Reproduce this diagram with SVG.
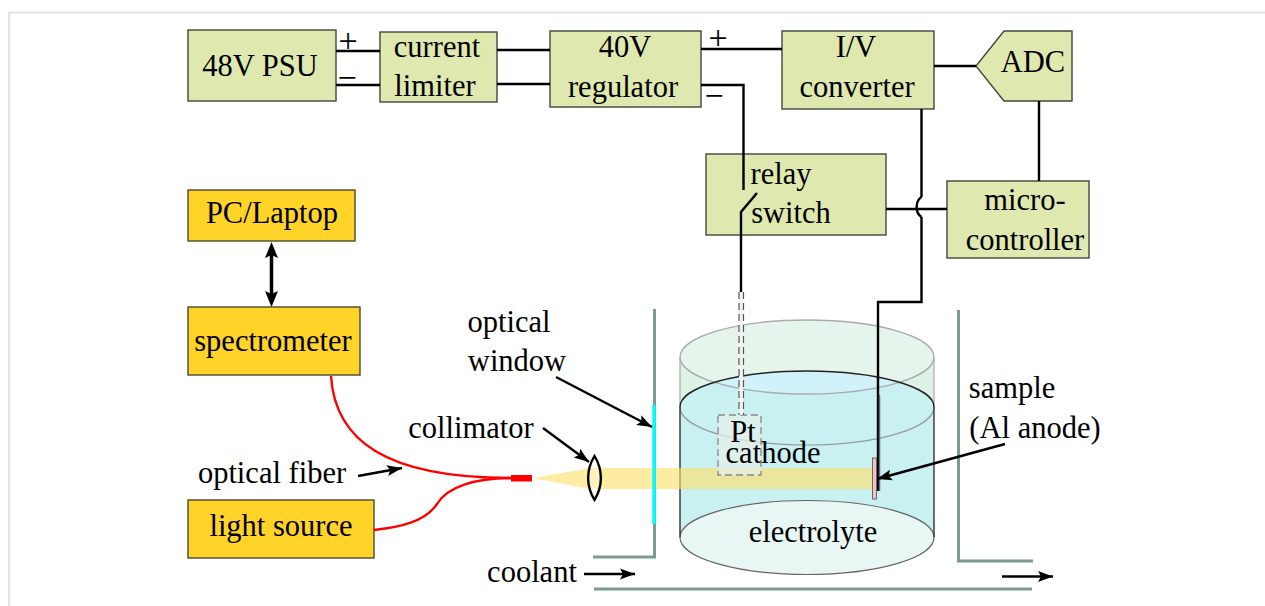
<svg xmlns="http://www.w3.org/2000/svg" width="1265" height="606" viewBox="0 0 1265 606">
<defs>
<marker id="ah" markerUnits="userSpaceOnUse" markerWidth="16" markerHeight="14" refX="15" refY="7" orient="auto"><path d="M0 1.500L15 7L0 12.500L3 7Z" fill="#000"/></marker>
<clipPath id="mid"><ellipse cx="807" cy="407" rx="127" ry="36"/></clipPath>
</defs>
<style>
text{font-family:"Liberation Serif","Times New Roman",serif;font-size:30.5px;fill:#000;text-anchor:middle}
.g{fill:#dfe8ae;stroke:#3c4a3c;stroke-width:1.4}
.y{fill:#ffd327;stroke:#4a4a30;stroke-width:1.4}
.w{fill:none;stroke:#000;stroke-width:2.4}
.a{fill:none;stroke:#000;stroke-width:2.4;marker-end:url(#ah)}
.t{fill:none;stroke:#7a9a92;stroke-width:3}
.r{fill:none;stroke:#f00;stroke-width:2.4}
.s{font-size:34px}
</style>
<rect x="9" y="12.500" width="1300" height="700" fill="#fff" stroke="#e4e4e4" stroke-width="2"/>
<g id="cell">
<path d="M680 357A127 37 0 0 1 934 357V407H680Z" fill="#dcf3e6"/>
<ellipse cx="807" cy="357" rx="127" ry="37" fill="#e6f5ec"/>
<path d="M680 407A127 36 0 0 1 934 407V537H680Z" fill="#caf1f2"/>
<ellipse cx="807" cy="357" rx="127" ry="37" fill="#d2f2fb" clip-path="url(#mid)"/>
<ellipse cx="807" cy="537.500" rx="127" ry="37" fill="#e8f6f4" stroke="#666" stroke-width="1.200"/>
<ellipse cx="807" cy="357" rx="127" ry="37" fill="none" stroke="#aaa" stroke-width="1.300"/>
<path d="M680 357V407M934 357V407" stroke="#aaa" stroke-width="1.200" fill="none"/>
<path d="M680 407A127 38 0 0 0 934 407" fill="none" stroke="#999" stroke-width="1.200"/>
<path d="M680 407A127 36 0 0 1 934 407" fill="none" stroke="#222" stroke-width="1.400"/>
<path d="M680 407V537M934 407V537" stroke="#333" stroke-width="1.400" fill="none"/>
<text x="813" y="542">electrolyte</text>
</g>
<g id="beam">
<path d="M533 478L590 468H873V489H590Z" fill="#ffe066" fill-opacity=".6"/>
</g>
<g id="cathode">
<rect x="718" y="415" width="43" height="60" fill="#e4efe8" fill-opacity=".75" stroke="#888" stroke-width="1.300" stroke-dasharray="7 4"/>
<path d="M739 292H743V415H739Z" fill="#f2f2f2"/>
<path d="M739 292V415M743.500 292V415" stroke="#555" stroke-width="1.200" stroke-dasharray="7 4" fill="none"/>
<text x="743" y="442">Pt</text>
<text x="773" y="463">cathode</text>
</g>
<g id="vessel">
<path class="t" d="M593 557H654.500V309"/>
<path class="t" d="M958.500 310V561H1033"/>
<path class="t" d="M594 589H1032"/>
<path d="M654 405V524" stroke="#0ff" stroke-width="3.500" fill="none"/>
</g>
<g id="psu"><rect class="g" x="188" y="30" width="148" height="71"/><text x="260" y="76">48V PSU</text></g>
<g id="limiter"><rect class="g" x="380" y="32" width="117" height="70"/><text x="437" y="57">current</text><text x="435" y="96">limiter</text></g>
<g id="regulator"><rect class="g" x="550" y="31" width="151" height="76"/><text x="625" y="57">40V</text><text x="623" y="97">regulator</text></g>
<g id="iv"><rect class="g" x="782" y="31" width="152" height="78"/><text x="856" y="57">I/V</text><text x="857" y="97">converter</text></g>
<g id="adc"><path class="g" d="M1004 31H1072V101H1004L976 66Z"/><text x="1033" y="72">ADC</text></g>
<g id="relay"><rect class="g" x="706" y="154" width="180" height="81"/><text x="781" y="184">relay</text><text x="791" y="223">switch</text></g>
<g id="mcu"><rect class="g" x="947" y="181" width="142" height="77"/><text x="1025" y="210">micro-</text><text x="1025" y="250">controller</text></g>
<g id="pc"><rect class="y" x="188" y="190" width="167" height="51"/><text x="272" y="223">PC/Laptop</text></g>
<g id="spec"><rect class="y" x="188" y="307" width="172" height="68"/><text x="273" y="351">spectrometer</text></g>
<g id="light"><rect class="y" x="188" y="500" width="186" height="58"/><text x="281" y="536">light source</text></g>
<g id="connectors">
<path class="w" d="M336 51H380M336 85H380M497 50H550M497 84H550M701 49H782M701 85H743.500V190M934 66H976M1039 101V181M886 209H947M921.500 109V197M921.500 217V302H878V491"/>
<path class="w" d="M921.500 197C915 201 915 213 921.500 217"/>
<path d="M879.500 395V491" stroke="#667" stroke-width="1.500" fill="none"/>
<path class="w" d="M757 193L741 212V292"/>
<path d="M271.500 250V300" stroke="#000" stroke-width="3.500" fill="none"/>
<path d="M271.500 242L265 258L271.500 255L278 258Z M271.500 307L265 291L271.500 294L278 291Z"/>
<path class="r" d="M331 376C335 440 385 478 511 478"/>
<path class="r" d="M374 530C400 527 425 522 437 504C447 487 475 478 511 478"/>
<path class="a" d="M358 476L402 468"/>
<path class="a" d="M543 428L589 462"/>
<path class="a" d="M556 377L652 427"/>
<path class="a" d="M1005 444L877 479"/>
<path class="a" d="M584 574L635 574"/>
<path class="a" d="M1002 576.500L1053 576.500"/>
</g>
<g id="fiber-tip"><rect x="511" y="475" width="21" height="6.500" fill="#f00"/></g>
<g id="lens"><path d="M594.500 456C586 470 586 486 594.500 500C603 486 603 470 594.500 456Z" fill="#fff" fill-opacity=".3" stroke="#000" stroke-width="2.400"/></g>
<g id="sample"><rect x="872.500" y="458" width="4" height="41" fill="#f5c0c4" stroke="#666" stroke-width="1"/></g>
<g id="labels">
<text class="s" x="348" y="52">+</text>
<text class="s" x="347" y="89">−</text>
<text class="s" x="718" y="49">+</text>
<text class="s" x="714" y="107">−</text>
<text x="509" y="332">optical</text>
<text x="517" y="371">window</text>
<text x="471" y="438">collimator</text>
<text x="272" y="483">optical fiber</text>
<text x="1012" y="398">sample</text>
<text x="1035" y="438">(Al anode)</text>
<text x="532" y="582">coolant</text>
</g>
</svg>
